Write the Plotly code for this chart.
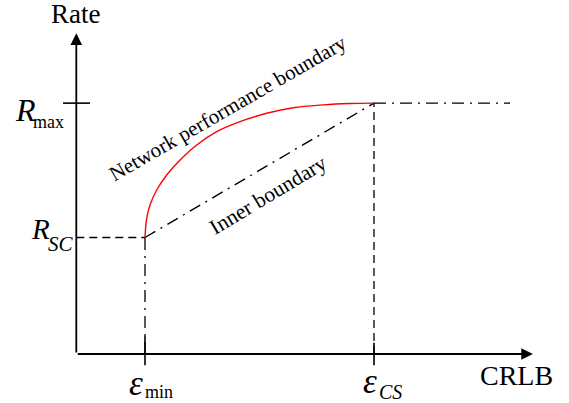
import plotly.graph_objects as go

# ---- data (arbitrary units) ----
eps_min = 1.5
eps_cs = 6.5
r_sc = 2.6
r_max = 5.6
x_axis_end = 9.97
y_axis_end = 7.16
plateau_end = 9.47

curve_x = [1.50, 1.537, 1.609, 1.755, 1.974, 2.265, 2.629, 3.066, 3.574, 4.157, 4.738, 5.393, 5.976, 6.50]
curve_y = [2.60, 3.03, 3.326, 3.661, 3.996, 4.33, 4.665, 4.962, 5.185, 5.373, 5.498, 5.56, 5.59, 5.60]

W, H = 569, 403
X0, XS = 76.3, 45.8   # px of x=0, px per unit
Y0, YS = 354.0, 44.8  # px of y=0, px per unit
xr = [(0 - X0) / XS, (W - X0) / XS]
yr = [(Y0 - H) / YS, Y0 / YS]

def px(x):
    return x / W

def py(y):
    return 1 - y / H

FONT = "Liberation Serif"
DASHDOT = "12px,6px,2px,6px"
DASH = "8px,5px"

fig = go.Figure()

def line(xs, ys, color="black", width=1.4, dash="solid", shape="linear"):
    fig.add_trace(go.Scatter(x=xs, y=ys, mode="lines", hoverinfo="skip",
                             line=dict(color=color, width=width, dash=dash, shape=shape),
                             showlegend=False))

# guide lines
line([0, eps_min], [r_sc, r_sc], dash=DASH, width=1.3)
line([eps_min, eps_min], [0, r_sc], dash=DASHDOT, width=1.3)
line([eps_cs, eps_cs], [0, r_max], dash=DASH, width=1.3)
line([eps_min, eps_cs], [r_sc, r_max], dash=DASHDOT, width=1.4)
line([eps_cs, plateau_end], [r_max, r_max], dash=DASHDOT, width=1.4)
# ticks
line([-0.29, 0.30], [r_max, r_max], width=1.6)
line([eps_min, eps_min], [-0.25, 0.40], width=1.6)
line([eps_cs, eps_cs], [-0.25, 0.25], width=1.6)
# performance boundary
line(curve_x, curve_y, color="#ff0000", width=1.4, shape="spline")

ann = []
# axes with arrows
ann.append(dict(x=x_axis_end, y=0, ax=0, ay=0, xref="x", yref="y", axref="x", ayref="y",
                showarrow=True, arrowhead=2, arrowsize=1.3, arrowwidth=1.8, arrowcolor="black", text=""))
ann.append(dict(x=0, y=y_axis_end, ax=0, ay=0, xref="x", yref="y", axref="x", ayref="y",
                showarrow=True, arrowhead=2, arrowsize=1.3, arrowwidth=1.8, arrowcolor="black", text=""))

def txt(s, x, y, size, angle=0, italic=False):
    ann.append(dict(text=s, x=px(x), y=py(y), xref="paper", yref="paper",
                    xanchor="center", yanchor="middle", showarrow=False, textangle=angle,
                    font=dict(family=FONT, size=size, color="black",
                              style="italic" if italic else "normal")))

txt("Rate", 75, 14.5, 27)
txt("CRLB", 516, 375, 28)
txt("R", 25, 110, 32, italic=True)
txt("max", 48, 122, 18)
txt("R", 41, 229, 29, italic=True)
txt("SC", 61, 244, 21, italic=True)
txt("ε", 136, 383, 35, italic=True)
txt("min", 159, 392, 18)
txt("ε", 370, 381, 35, italic=True)
txt("CS", 390, 392, 20, italic=True)
txt("Network performance boundary", 228.3, 108.3, 21, angle=-30)
txt("Inner boundary", 268.3, 195, 21.5, angle=-31)

fig.update_layout(
    width=W, height=H, margin=dict(l=0, r=0, t=0, b=0),
    paper_bgcolor="white", plot_bgcolor="white",
    xaxis=dict(range=xr, visible=False, fixedrange=True),
    yaxis=dict(range=yr, visible=False, fixedrange=True),
    annotations=ann,
)

fig.write_html("out.html", config={"displayModeBar": False},
               post_script="document.body.style.margin='0';document.body.style.overflow='hidden';")
